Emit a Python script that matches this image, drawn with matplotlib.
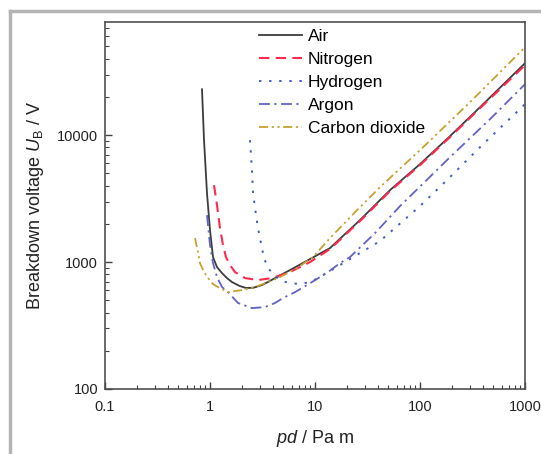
import matplotlib
matplotlib.use("Agg")
import matplotlib.pyplot as plt
from matplotlib.ticker import FuncFormatter, LogLocator, NullFormatter
from matplotlib.lines import Line2D

plt.rcParams['font.family'] = ['Liberation Sans', 'DejaVu Sans']
plt.rcParams['mathtext.fontset'] = 'custom'
plt.rcParams['mathtext.rm'] = 'Liberation Sans'
plt.rcParams['mathtext.it'] = 'Liberation Sans:italic'

# Paschen curves: product pd (Pa m) against breakdown voltage (V)
air_pd = [0.839, 0.877, 0.936, 1.0, 1.068, 1.166, 1.301, 1.45, 1.62, 1.9, 2.2, 2.6,
          3.128, 3.6, 4.159, 5.78, 8.96, 13.9, 26.8, 51.8, 100, 193, 373, 1000]
air_u = [23000, 9130, 3500, 1786, 1095, 913, 819, 748, 696, 650, 625, 628,
         659, 700, 748, 865, 1056, 1290, 2142, 3689, 5912, 9820, 16610, 36880]

n2_pd = [1.092, 1.166, 1.245, 1.330, 1.420, 1.551, 1.730, 2.154, 2.865, 3.895,
         5.78, 8.96, 13.9, 26.8, 51.8, 100, 193, 373, 1000]
n2_u = [4040, 2811, 1852, 1361, 1095, 947, 834, 748, 722, 748,
        834, 1000, 1266, 2102, 3625, 5805, 9645, 16310, 35570]

h2_pd = [2.404, 2.512, 2.568, 2.743, 2.865, 3.060, 3.268, 3.567, 4.159, 4.850,
         5.780, 7.197, 8.964, 10.68, 15.51, 21.54, 41.6, 100, 193, 373, 1000]
h2_u = [9134, 5302, 3494, 2345, 1852, 1411, 1075, 897, 776, 709,
        683, 671, 696, 748, 897, 1056, 1464, 2760, 4669, 8046, 17540]

ar_pd = [0.936, 1.0, 1.068, 1.166, 1.301, 1.484, 1.848, 2.512, 3.341, 4.159, 4.958,
         6.449, 8.390, 11.16, 13.30, 17.30, 21.54, 37.28, 64.49, 193.1, 464.2, 1000]
ar_u = [2345, 1361, 982, 762, 636, 580, 476, 434, 442, 476, 521,
        580, 659, 762, 834, 982, 1095, 1691, 2760, 6711, 13370, 25210]

co2_pd = [0.720, 0.768, 0.803, 0.877, 0.957, 1.068, 1.192, 1.484, 2.018, 2.683,
          3.567, 4.642, 6.74, 9.57, 13.89, 26.83, 41.60, 100, 299.3, 1000]
co2_u = [1545, 1199, 982, 834, 748, 671, 636, 580, 602, 636,
         696, 762, 897, 1095, 1545, 2711, 3895, 7620, 18190, 49300]

fig = plt.figure(figsize=(5.41, 4.54), dpi=100)
ax = fig.add_axes([0.1941, 0.1432, 0.7763, 0.8084])

ax.plot(air_pd, air_u, color='#3c3c3c', lw=1.3, ls='-', label='Air')
ax.plot(n2_pd, n2_u, color='#ff2a4e', lw=1.5, ls=(0, (5, 3)), label='Nitrogen')
ax.plot(h2_pd, h2_u, color='#3f5cc4', lw=1.4, ls=(0, (1.2, 4)), label='Hydrogen')
ax.plot(ar_pd, ar_u, color='#6262c4', lw=1.3, ls=(0, (6, 2.5, 1.2, 2.5)), label='Argon')
ax.plot(co2_pd, co2_u, color='#c9a030', lw=1.3,
        ls=(0, (5, 2, 1.2, 2, 1.2, 2)), label='Carbon dioxide')

ax.set_xscale('log')
ax.set_yscale('log')
ax.set_xlim(0.1, 1000)
ax.set_ylim(100, 78000)

fmt = FuncFormatter(lambda v, p: f'{v:g}')
ax.xaxis.set_major_formatter(fmt)
ax.yaxis.set_major_formatter(fmt)
ax.xaxis.set_minor_locator(LogLocator(base=10, subs=range(2, 10)))
ax.yaxis.set_minor_locator(LogLocator(base=10, subs=range(2, 10)))
ax.xaxis.set_minor_formatter(NullFormatter())
ax.yaxis.set_minor_formatter(NullFormatter())

ax.tick_params(which='both', direction='in', colors='#404040', labelcolor='#222222')
ax.tick_params(which='major', length=5, width=1.0, labelsize=10.5)
ax.tick_params(which='minor', length=3, width=0.8)
ax.tick_params(axis='x', which='major', pad=8)
ax.tick_params(axis='y', which='major', pad=5)
for s in ax.spines.values():
    s.set_color('#505050')
    s.set_linewidth(1.2)

ax.set_xlabel(r'$\it{pd}$ / Pa m', fontsize=13, color='#222222', labelpad=10)
ax.set_ylabel(r'Breakdown voltage $\it{U}_\mathrm{B}$ / V', fontsize=13,
              color='#222222', labelpad=8)

ax.legend(loc='upper left', bbox_to_anchor=(0.342, 1.01), frameon=False,
          fontsize=12.5, handlelength=2.5, handletextpad=0.3, labelspacing=0.45,
          borderaxespad=0.2)

# page border
fig.add_artist(Line2D([10 / 541, 10 / 541], [0, 1 - 11 / 454],
                      transform=fig.transFigure, color='#b4b4b4', lw=2.5))
fig.add_artist(Line2D([10 / 541, 1], [1 - 11 / 454, 1 - 11 / 454],
                      transform=fig.transFigure, color='#b4b4b4', lw=2.5))

fig.savefig('out.png', dpi=100)
